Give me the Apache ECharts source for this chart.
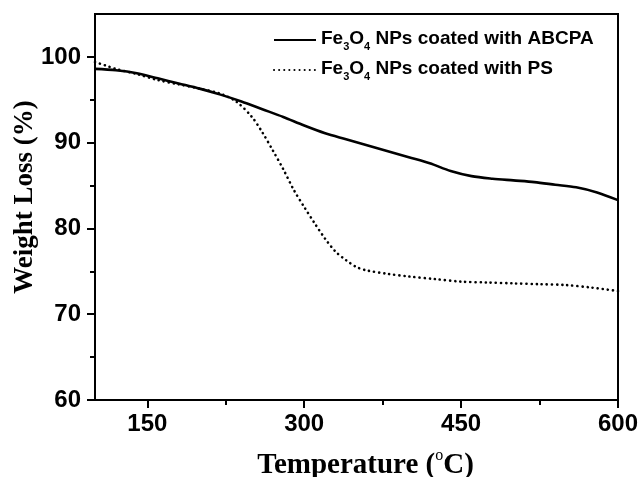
<!DOCTYPE html>
<html>
<head>
<meta charset="utf-8">
<script src="https://cdn.jsdelivr.net/npm/echarts@6/dist/echarts.min.js"></script>
<style>
html,body{margin:0;padding:0;background:#fff;}
#c{width:642px;height:477px;}
</style>
</head>
<body>
<div id="c"></div>
<script>
// Temperature (°C) and weight (%)
var tempABCPA = [100,120,140,160,180,200,220,240,260,280,300,320,340,360,380,400,420,440,460,480,500,520,540,560,580,600];
var wABCPA    = [98.6,98.45,98.1,97.5,96.9,96.3,95.6,94.8,93.9,93.0,92.0,91.1,90.4,89.7,89.0,88.3,87.6,86.7,86.1,85.8,85.6,85.4,85.1,84.8,84.2,83.3];
var tempPS = [100,110,120,140,160,180,200,220,235,250,260,270,280,290,300,310,320,330,340,350,360,380,400,425,450,475,500,525,550,575,600];
var wPS    = [99.4,99.0,98.6,98.0,97.3,96.8,96.3,95.7,94.8,93.0,91.2,89.1,86.9,84.5,82.5,80.6,78.8,77.3,76.3,75.5,75.1,74.7,74.4,74.1,73.8,73.7,73.6,73.5,73.4,73.1,72.7];
var xMajor = [150,300,450,600];
var xMinor = [225,375,525];
var yMajor = [60,70,80,90,100];
var yMinor = [65,75,85,95];
var names = ['ABCPA','PS'];

function pairs(xs, ys){ return xs.map(function(x,i){ return [x, ys[i]]; }); }

var labelFont = {fontFamily:'Liberation Sans', fontWeight:'bold', fontSize:24, color:'#000'};
var chart = echarts.init(document.getElementById('c'), null, {renderer:'canvas'});
chart.setOption({
  animation:false,
  backgroundColor:'#fff',
  grid:{left:95, right:24, top:14, bottom:77, show:true, borderColor:'#000', borderWidth:2, containLabel:false, outerBoundsMode:'none'},
  legend:{
    orient:'vertical', left:273, top:29, padding:0, itemWidth:42, itemHeight:14, itemGap:7,
    data:names,
    itemStyle:{color:'rgba(0,0,0,0)', borderWidth:0, opacity:0},
    formatter:function(n){ return '{n|Fe}{s|3}{n|O}{s|4}{n| NPs coated with ' + n + '}'; },
    textStyle:{
      padding:[0,0,0,0],
      rich:{
        n:{fontFamily:'Liberation Sans', fontWeight:'bold', fontSize:19, color:'#000', verticalAlign:'top', lineHeight:22},
        s:{fontFamily:'Liberation Sans', fontWeight:'bold', fontSize:11, color:'#000', verticalAlign:'top', lineHeight:11, padding:[12,0,0,0]}
      }
    }
  },
  xAxis:[{
    type:'value', min:100, max:600, position:'bottom',
    axisLine:{show:true, lineStyle:{color:'#000', width:2}},
    axisTick:{show:true, customValues:xMajor, length:8, lineStyle:{color:'#000', width:2}},
    axisLabel:Object.assign({customValues:xMajor, margin:12}, labelFont),
    splitLine:{show:false},
    name:'{t|Temperature (}{u|o}{t|C)}', nameLocation:'middle', nameGap:48,
    nameTextStyle:{padding:[0,0,0,18], rich:{
      t:{fontFamily:'Liberation Serif', fontWeight:'bold', fontSize:29, color:'#000', verticalAlign:'bottom', lineHeight:32},
      u:{fontFamily:'Liberation Serif', fontSize:16, color:'#000', verticalAlign:'top', lineHeight:32}
    }}
  },{
    type:'value', min:100, max:600, position:'bottom',
    axisLine:{show:false},
    axisTick:{show:true, customValues:xMinor, length:5, lineStyle:{color:'#000', width:2}},
    axisLabel:{show:false}, splitLine:{show:false}
  }],
  yAxis:[{
    type:'value', min:60, max:105, position:'left',
    axisLine:{show:true, lineStyle:{color:'#000', width:2}},
    axisTick:{show:true, customValues:yMajor, length:8, lineStyle:{color:'#000', width:2}},
    axisLabel:Object.assign({customValues:yMajor, margin:14}, labelFont),
    splitLine:{show:false},
    name:'Weight Loss (%)', nameLocation:'middle', nameGap:56, nameRotate:90, nameMoveOverlap:false,
    nameTextStyle:{fontFamily:'Liberation Serif', fontWeight:'bold', fontSize:27, color:'#000', padding:[0,0,0,20]}
  },{
    type:'value', min:60, max:105, position:'left',
    axisLine:{show:false},
    axisTick:{show:true, customValues:yMinor, length:5, lineStyle:{color:'#000', width:2}},
    axisLabel:{show:false}, splitLine:{show:false}
  }],
  series:[{
    name:names[0], type:'line', xAxisIndex:0, yAxisIndex:0, symbol:'none', smooth:0.3,
    data:pairs(tempABCPA, wABCPA),
    lineStyle:{color:'#000', width:2.6, type:'solid'}, itemStyle:{color:'#000'}
  },{
    name:names[1], type:'line', xAxisIndex:0, yAxisIndex:0, symbol:'none', smooth:0.3,
    data:pairs(tempPS, wPS),
    lineStyle:{color:'#000', width:2.6, type:[0.1,5], cap:'round'}, itemStyle:{color:'#000'}
  }]
});
</script>
</body>
</html>
